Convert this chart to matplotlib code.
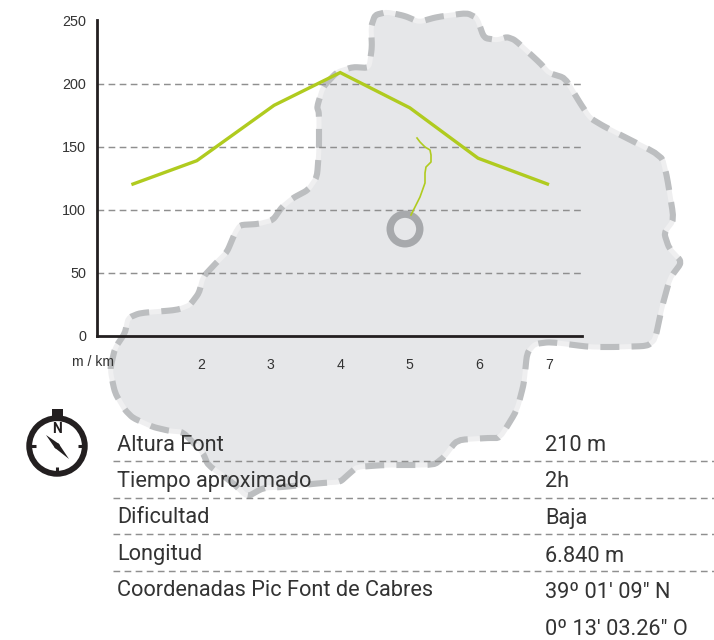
import matplotlib
matplotlib.use("Agg")
import matplotlib.pyplot as plt
from matplotlib.patches import Circle, Polygon, Rectangle
import numpy as np

W, H = 714, 640

km = [1.0, 1.94, 3.05, 4.0, 5.0, 5.98, 7.0]
elevation = [120, 139, 183, 209, 181, 141, 120]
km_ticks = [2, 3, 4, 5, 6, 7]
y_ticks = [0, 50, 100, 150, 200, 250]
grid_levels = [50, 100, 150, 200]

table_labels = ["Altura Font", "Tiempo aproximado", "Dificultad", "Longitud",
                "Coordenadas Pic Font de Cabres"]
table_values = ["210 m", "2h", "Baja", "6.840 m", "39º 01' 09\" N", "0º 13' 03.26\" O"]

# Island outline, illustration drawn in pixel space
map_x = [115,125,128,140,177,190,199,203,217,227,235,240,258,273,282,293,308,317,319,319,317,323,337,353,
         369,372,371,375,387,405,419,437,467,477,484,497,507,515,540,549,565,580,590,605,662,667,674,664,669,682,
         670,662,655,647,617,590,550,535,527,524,517,500,487,457,444,434,384,357,350,340,322,283,263,247,233,208,
         203,183,170,153,133,125,115,110]
map_y = [348,333,318,313,310,305,293,277,262,252,233,225,224,220,207,198,190,177,150,113,107,87,72,67,
         68,47,27,15,12,16,22,17,13,18,38,40,37,40,63,73,78,103,118,127,156,177,220,233,248,262,
         278,307,340,346,347,347,342,344,353,383,410,438,438,440,457,465,465,467,473,482,483,487,488,497,483,465,
         453,432,431,427,418,410,393,370]
trail_x = [417,420,425,430,431,431,426,425,425,420,411]
trail_y = [138,142,147,150,155,162,167,173,183,197,215]
table_rules = [461, 498, 534, 571]
label_baselines = [451, 487, 523, 560, 596]
value_baselines = [451, 487, 524, 562, 598, 635]

def smooth(x, y, passes=2, r=0.15):
    p = np.column_stack([x, y]).astype(float)
    for _ in range(passes):
        q = np.roll(p, -1, axis=0)
        p = np.column_stack([(1 - r) * p + r * q, r * p + (1 - r) * q]).reshape(-1, 2)
    return p

DARK = "#231f20"
TEXT = "#333333"
GREEN = "#b0cb1f"
DASH = "#8f8f8f"
RULE = (0, (4.6, 3.0))

fig = plt.figure(figsize=(W / 100, H / 100), dpi=100, facecolor="white")

def overlay(z):
    a = fig.add_axes([0, 0, 1, 1], zorder=z)
    a.set_xlim(0, W); a.set_ylim(H, 0); a.axis("off"); a.patch.set_alpha(0)
    return a

bg = overlay(0)
outline = smooth(map_x, map_y)
bg.add_patch(Polygon(outline, closed=True, facecolor="#e6e7e9", edgecolor="#efeff0", lw=3.6, joinstyle="round"))
bg.add_patch(Polygon(outline, closed=True, fill=False, edgecolor="#bcbec0", lw=4.4,
                     linestyle=(0, (3.1, 2.0)), joinstyle="round", capstyle="butt"))

# Chart
L, R, T, B = 97, 582, 20, 335.7
ax = fig.add_axes([L / W, 1 - B / H, (R - L) / W, (B - T) / H], zorder=1)
ax.patch.set_alpha(0)
px_km = 69.6
px_y = 62.95 / 50
ax.set_xlim(2 + (L - 201) / px_km, 2 + (R - 201) / px_km)
ax.set_ylim(0, (B - T) / px_y)
for s in ("top", "right"):
    ax.spines[s].set_visible(False)
for s in ("left", "bottom"):
    ax.spines[s].set_linewidth(2.0)
    ax.spines[s].set_color(DARK)
ax.hlines(grid_levels, ax.get_xlim()[0], ax.get_xlim()[1], colors=DASH, lw=1.05,
          linestyles=[RULE], zorder=1)
ax.plot(km, elevation, color=GREEN, lw=2.4, solid_joinstyle="miter", solid_capstyle="butt", zorder=3)
ax.set_xticks(km_ticks)
ax.set_yticks(y_ticks)
ax.tick_params(axis="both", length=0)
ax.tick_params(axis="y", pad=8, labelsize=10.4, labelcolor=TEXT)
ax.tick_params(axis="x", pad=16, labelsize=10.2, labelcolor=TEXT)
for t in ax.get_xticklabels() + ax.get_yticklabels():
    t.set_fontfamily("Liberation Sans")

top = overlay(2)
top.text(93, 366, "m / km", family="Liberation Sans", fontsize=10.2, color=TEXT, ha="center", va="baseline")
top.add_patch(Circle((405, 229), 14.8, fill=False, edgecolor="#a7a9ac", lw=5.3))
top.plot(trail_x, trail_y, color=GREEN, lw=1.2)

# Table
for y in table_rules:
    top.plot([113, 714], [y, y], color=DASH, lw=1.05, linestyle=RULE)
for s, y in zip(table_labels, label_baselines):
    top.text(117, y, s, family="Roboto", fontsize=15.7, color=TEXT, va="baseline", ha="left")
for s, y in zip(table_values, value_baselines):
    top.text(545, y, s, family="Roboto", fontsize=15.7, color=TEXT, va="baseline", ha="left")

# Compass
cx, cy = 57, 446
top.add_patch(Rectangle((52, 409), 11, 9, color=DARK, lw=0))
top.add_patch(Circle((cx, cy), 27.8, facecolor="white", edgecolor=DARK, lw=4.2))
for dx0, dy0, dx1, dy1 in [(-26, 0, -21, 0), (21, 0, 26, 0), (0, 21, 0, 26)]:
    top.plot([cx + dx0, cx + dx1], [cy + dy0, cy + dy1], color=DARK, lw=2.2, solid_capstyle="butt")
top.text(cx, 429, "N", family="Roboto", weight="bold", fontsize=10, color=DARK, ha="center", va="center")
top.add_patch(Polygon([(46, 435), (cx + 1.8, cy - 2.2), (69, 459), (cx - 2.2, cy + 1.8)], closed=True, color=DARK, lw=0))
top.add_patch(Circle((cx, cy), 2.8, color=DARK, lw=0))

fig.savefig("out.png", dpi=100)
